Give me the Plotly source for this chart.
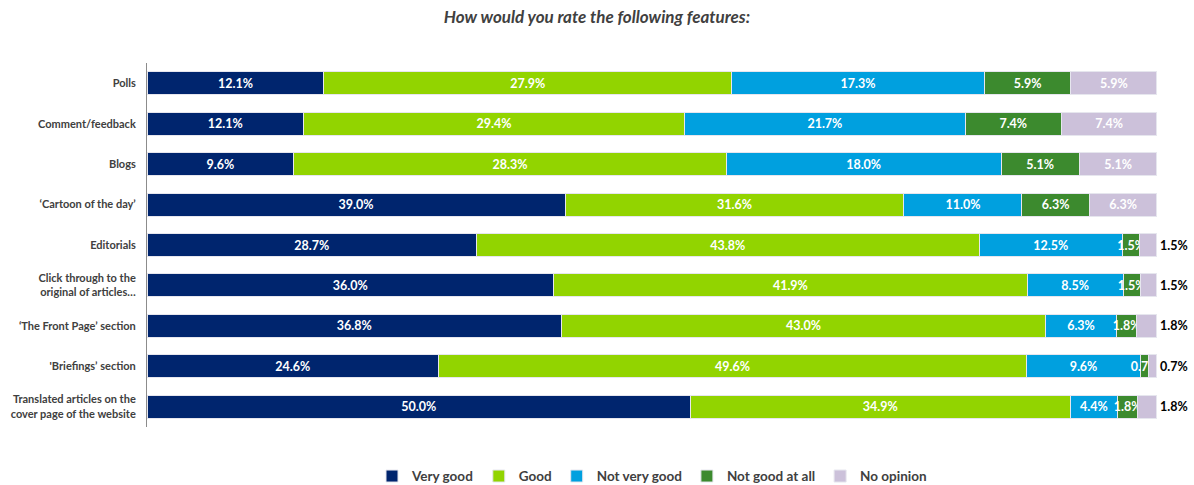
import plotly.graph_objects as go

# Survey features, listed top to bottom
features = [
    "Polls",
    "Comment/feedback",
    "Blogs",
    "‘Cartoon of the day’",
    "Editorials",
    "Click through to the<br>original of articles…",
    "‘The Front Page’ section",
    "'Briefings’ section",
    "Translated articles on the<br>cover page of the website",
]

very_good = [12.1, 12.1, 9.6, 39.0, 28.7, 36.0, 36.8, 24.6, 50.0]
good = [27.9, 29.4, 28.3, 31.6, 43.8, 41.9, 43.0, 49.6, 34.9]
not_very_good = [17.3, 21.7, 18.0, 11.0, 12.5, 8.5, 6.3, 9.6, 4.4]
not_good_at_all = [5.9, 7.4, 5.1, 6.3, 1.5, 1.5, 1.8, 0.7, 1.8]
no_opinion = [5.9, 7.4, 5.1, 6.3, 1.5, 1.5, 1.8, 0.7, 1.8]

series = [
    ("Very good", very_good, "#00256E"),
    ("Good", good, "#92D400"),
    ("Not very good", not_very_good, "#00A0DF"),
    ("Not good at all", not_good_at_all, "#3C8A2E"),
    ("No opinion", no_opinion, "#CCC1DA"),
]

FONT = "Lato"
LABEL_SIZE = 12.5

fig = go.Figure()
for name, vals, color in series:
    labels = [f"{v:.1f}%" for v in vals]
    # the last segment puts labels that don't fit to the right of the bar
    pos = "auto" if name == "No opinion" else "inside"
    fig.add_trace(go.Bar(
        name=name,
        y=features,
        x=vals,
        orientation="h",
        marker=dict(color=color, line=dict(color="#E6E6EE", width=1)),
        text=labels,
        textposition=pos,
        insidetextanchor="middle",
        textangle=0,
        constraintext="none",
        cliponaxis=False,
        insidetextfont=dict(family=FONT, size=LABEL_SIZE, color="white", weight="bold"),
        outsidetextfont=dict(family=FONT, size=LABEL_SIZE, color="black", weight="bold"),
        width=0.57,
        hoverinfo="skip",
    ))

fig.update_layout(
    width=1194,
    height=485,
    barmode="stack",
    barnorm="percent",
    plot_bgcolor="white",
    paper_bgcolor="white",
    margin=dict(l=147, r=37, t=63, b=58, autoexpand=False),
    title=dict(
        text="<i>How would you rate the following features:</i>",
        x=0.5,
        xanchor="center",
        y=0.965,
        yanchor="middle",
        font=dict(family=FONT, size=17, color="#404040", weight="bold"),
    ),
    legend=dict(
        orientation="h",
        x=0.5,
        xanchor="center",
        yref="container",
        y=0.018,
        yanchor="middle",
        font=dict(family=FONT, size=13.5, color="#404040", weight="bold"),
        traceorder="normal",
        itemwidth=30,
    ),
)

fig.update_xaxes(
    # a hair past 100 so rounding in the normalised stacks never pushes a bar end out of range
    range=[0, 100.001],
    showgrid=False,
    showticklabels=False,
    zeroline=False,
    showline=False,
    fixedrange=True,
)
fig.update_yaxes(
    autorange="reversed",
    showgrid=False,
    showline=True,
    linecolor="#8C8C8C",
    linewidth=1,
    ticks="",
    ticklabelstandoff=8,
    tickfont=dict(family=FONT, size=11, color="#404040", weight="bold"),
)

fig.write_html("out.html")
